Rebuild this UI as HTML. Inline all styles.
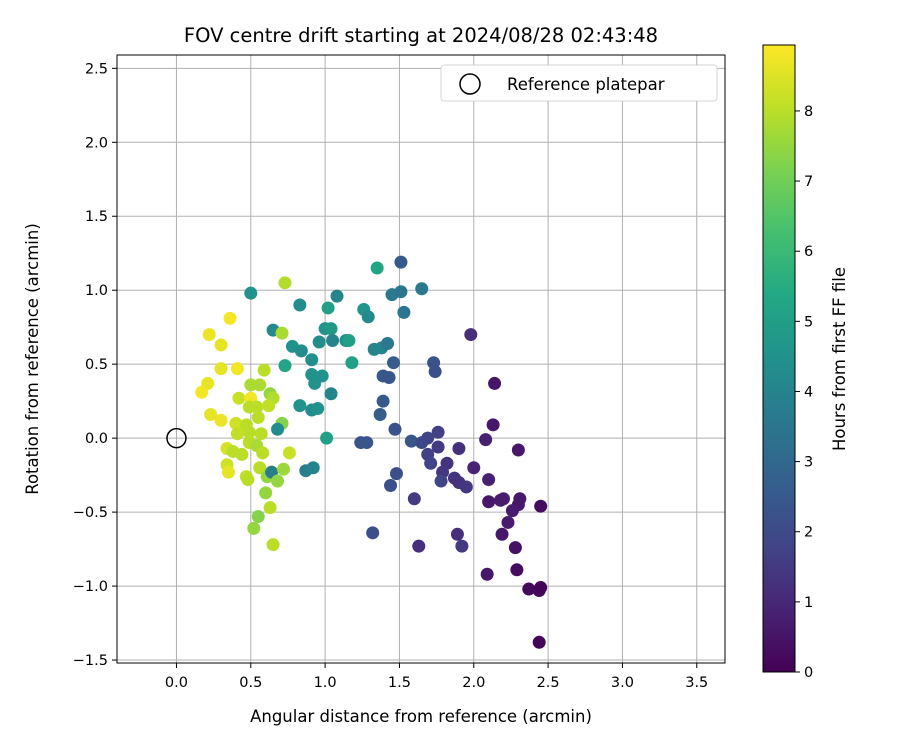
<!DOCTYPE html>
<html><head><meta charset="utf-8"><style>
body{margin:0;background:#fff;font-family:"Liberation Sans","DejaVu Sans",sans-serif;}
svg text{font-family:"DejaVu Sans","Liberation Sans",sans-serif;fill:#000;}
</style></head><body>
<svg id="chart" width="900" height="750" xmlns="http://www.w3.org/2000/svg">
<rect width="900" height="750" fill="#fff"/>
<text x="421" y="42" text-anchor="middle" font-size="19.5">FOV centre drift starting at 2024/08/28 02:43:48</text>
<g id="grid"></g>
<g id="points"></g>
<rect x="117" y="55" width="608" height="608" fill="none" stroke="#000" stroke-width="1"/>
<g id="axes"></g>
<text x="421" y="722" text-anchor="middle" font-size="16.5">Angular distance from reference (arcmin)</text>
<text transform="translate(38,359) rotate(-90)" text-anchor="middle" font-size="16.5">Rotation from reference (arcmin)</text>
<g>
<rect x="441" y="65" width="276" height="36" rx="3" fill="#fff" stroke="#ccc" stroke-opacity="0.8"/>
<circle cx="470" cy="84" r="10" fill="none" stroke="#000" stroke-width="1.5"/>
<text x="507" y="90" font-size="16.5">Reference platepar</text>
</g>
<defs><linearGradient id="vir" x1="0" y1="1" x2="0" y2="0"></linearGradient></defs>
<rect x="763" y="45" width="32" height="627" fill="url(#vir)" stroke="#000" stroke-width="1"/>
<g id="cbticks"></g>
<text transform="translate(845,359) rotate(-90)" text-anchor="middle" font-size="16.5">Hours from first FF file</text>
</svg>
<script>
const xs=[0.73,0.50,0.83,1.08,1.02,0.36,0.65,0.71,0.22,0.30,0.78,0.84,1.00,1.04,0.96,1.05,1.14,0.91,0.73,0.30,0.41,0.59,0.21,0.17,0.50,0.56,0.63,0.65,0.42,0.50,0.49,0.54,0.62,0.91,0.98,0.93,1.04,0.83,0.91,0.95,0.23,0.30,0.40,0.47,0.55,0.71,0.68,0.41,0.49,0.57,1.01,0.34,0.38,0.44,0.49,0.54,0.58,0.76,0.34,0.35,0.47,0.48,0.56,0.61,0.64,0.72,0.68,0.87,0.92,0.60,0.63,0.55,0.52,0.65,1.35,1.51,1.45,1.51,1.65,1.26,1.29,1.53,1.16,1.33,1.38,1.42,1.18,1.46,1.39,1.43,1.73,1.74,1.98,1.39,1.37,1.47,2.14,2.13,1.24,1.28,1.58,1.65,1.69,1.76,1.76,1.69,1.71,1.82,1.79,1.78,1.87,1.90,1.95,1.90,2.08,2.00,2.10,2.30,2.45,2.10,2.20,2.18,2.31,2.30,2.26,2.23,2.19,2.28,1.89,1.92,1.63,1.48,1.44,1.60,1.32,2.37,2.44,2.45,2.44,2.29,2.09];
const ys=[1.05,0.98,0.90,0.96,0.88,0.81,0.73,0.71,0.70,0.63,0.62,0.59,0.74,0.74,0.65,0.66,0.66,0.53,0.49,0.47,0.47,0.46,0.37,0.31,0.36,0.36,0.30,0.27,0.27,0.27,0.21,0.21,0.22,0.43,0.42,0.37,0.30,0.22,0.19,0.20,0.16,0.12,0.10,0.09,0.14,0.10,0.06,0.03,0.04,0.03,0.00,-0.07,-0.09,-0.11,-0.03,-0.05,-0.10,-0.10,-0.18,-0.23,-0.26,-0.28,-0.20,-0.26,-0.23,-0.21,-0.29,-0.22,-0.20,-0.37,-0.47,-0.53,-0.61,-0.72,1.15,1.19,0.97,0.99,1.01,0.87,0.82,0.85,0.66,0.60,0.61,0.64,0.51,0.51,0.42,0.41,0.51,0.45,0.70,0.25,0.16,0.06,0.37,0.09,-0.03,-0.03,-0.02,-0.03,0.00,0.04,-0.06,-0.11,-0.17,-0.17,-0.23,-0.29,-0.27,-0.30,-0.33,-0.07,-0.01,-0.20,-0.28,-0.08,-0.46,-0.43,-0.41,-0.42,-0.41,-0.45,-0.49,-0.57,-0.65,-0.74,-0.65,-0.73,-0.73,-0.24,-0.32,-0.41,-0.64,-1.02,-1.03,-1.01,-1.38,-0.89,-0.92];
const hours=[7.9,4.5,4.3,4,5,8.8,4.2,7.8,8.7,8.6,4.5,4.3,4.5,4.8,4.3,4,4.4,4.4,5.2,8.6,8.8,8.0,8.6,8.8,7.8,7.8,7.5,7.9,8.2,8.8,8,8,8.1,4.5,4.5,4.5,4,4.5,4.3,4.5,8.6,8.7,8.3,8,8,7.3,4.3,8.1,8,8,5.0,8.4,8,8,8,7.8,8,8.2,8.3,8.6,8.1,8,8,7.5,3.8,7.6,7.5,3.8,4,7.5,8,7.3,7.5,8.0,5.2,2.5,3.6,3.5,3.6,4.6,4.2,3.5,5,4.0,4,3.6,5,2.6,2.5,2.4,2.3,2.2,1.2,2.5,2.6,2.3,0.5,0.6,2.3,2.4,2.4,2,1.8,1.7,1.5,1.7,1.8,1.3,1.4,1.9,1.3,1.3,1.4,1.2,0.8,0.9,0.8,0.6,0.3,0.6,0.8,0.7,0.6,0.6,0.7,0.7,0.6,0.4,1.2,1.5,1.2,2.2,2.2,1.5,2.2,0.2,0.2,0.1,0.1,0.3,0.6];
const xTicks=[0,0.5,1,1.5,2,2.5,3,3.5];
const yTicks=[-1.5,-1,-0.5,0,0.5,1,1.5,2,2.5];
const cbTicks=[0,1,2,3,4,5,6,7,8];
const XMIN=-0.4,XMAX=3.69,YMIN=-1.52,YMAX=2.59,HMAX=8.94;
const L=117,R=725,T=55,B=663;
const sx=v=>L+(v-XMIN)/(XMAX-XMIN)*(R-L);
const sy=v=>B-(v-YMIN)/(YMAX-YMIN)*(B-T);
const sc=v=>672-v/HMAX*627;
const VIR=["#440154","#482475","#414487","#355f8d","#2a788e","#21918c","#22a884","#44bf70","#7ad151","#bddf26","#fde725"];
function hex(c){return [1,3,5].map(i=>parseInt(c.substr(i,2),16));}
function viridis(t){t=Math.max(0,Math.min(1,t));const p=t*(VIR.length-1),i=Math.min(Math.floor(p),VIR.length-2),f=p-i;const a=hex(VIR[i]),b=hex(VIR[i+1]);return "rgb("+a.map((v,k)=>Math.round(v+(b[k]-v)*f)).join(",")+")";}
const NS="http://www.w3.org/2000/svg";
function mk(tag,attrs,parent){const e=document.createElementNS(NS,tag);for(const k in attrs)e.setAttribute(k,attrs[k]);parent.appendChild(e);return e;}
const fmt=v=>(v<0?"\u2212":"")+Math.abs(v).toFixed(1);
const grid=document.getElementById("grid"),axes=document.getElementById("axes");
xTicks.forEach(v=>{const x=sx(v);
const g=mk("line",{x1:x,x2:x,y1:T,y2:B,stroke:"#b0b0b0","stroke-width":1},grid);


const t=mk("line",{x1:x,x2:x,y1:B,y2:B+5,stroke:"#000"},axes);


const l=mk("text",{x:x,y:B+24,"text-anchor":"middle","font-size":"14.5"},axes);l.textContent=fmt(v);

});
yTicks.forEach(v=>{const y=sy(v);
const g=mk("line",{x1:L,x2:R,y1:y,y2:y,stroke:"#b0b0b0","stroke-width":1},grid);


const t=mk("line",{x1:L-5,x2:L,y1:y,y2:y,stroke:"#000"},axes);


const l=mk("text",{x:L-9,y:y+5,"text-anchor":"end","font-size":"14.5"},axes);l.textContent=fmt(v);

});
const pts=document.getElementById("points");
xs.forEach((v,i)=>{const c=mk("circle",{cx:sx(v),cy:sy(ys[i]),r:6.5,fill:viridis(hours[i]/HMAX)},pts);

});
const ref=mk("circle",{cx:sx(0),cy:sy(0),r:9.5,fill:"none",stroke:"#000","stroke-width":1.5},pts);


const grad=document.getElementById("vir");
VIR.forEach((c,i)=>mk("stop",{offset:(i/(VIR.length-1)*100)+"%","stop-color":c},grad));
const cbt=document.getElementById("cbticks");
cbTicks.forEach(v=>{const y=sc(v);
const t=mk("line",{x1:795,x2:800,y1:y,y2:y,stroke:"#000"},cbt);


const l=mk("text",{x:804,y:y+5,"font-size":"14.5"},cbt);l.textContent=String(v);

});
</script>
</body></html>
